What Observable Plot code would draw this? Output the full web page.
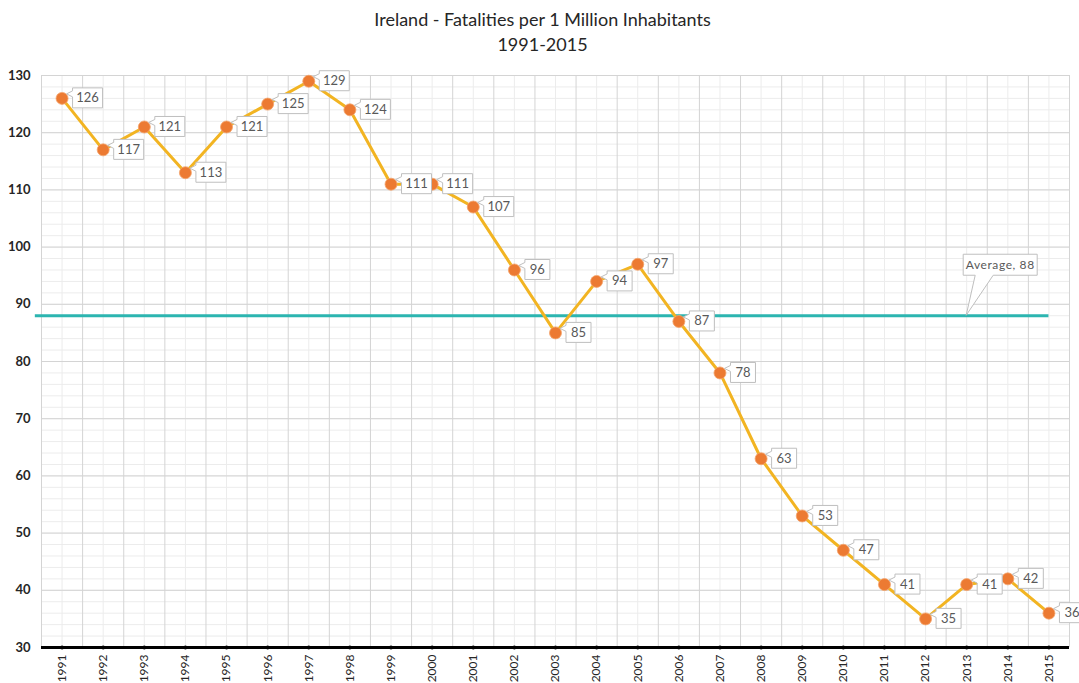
<!DOCTYPE html>
<html>
<head>
<meta charset="utf-8">
<script src="https://cdn.jsdelivr.net/npm/d3@7"></script>
<script src="https://cdn.jsdelivr.net/npm/@observablehq/plot@0.6"></script>
<style>
  html, body { margin: 0; padding: 0; background: #fff; }
  #title { height: 62px; width: 1079px; text-align: center; font-family: Lato, "Open Sans", sans-serif; font-size: 18px; color: #262626; line-height: 25px; padding-top: 7px; box-sizing: border-box; padding-left: 6px; }
  svg { display: block; }
</style>
</head>
<body>
<div id="title">Ireland - Fatalities per 1 Million Inhabitants<br>1991-2015</div>
<div id="chart"></div>
<script>
const years = [1991,1992,1993,1994,1995,1996,1997,1998,1999,2000,2001,2002,2003,2004,2005,2006,2007,2008,2009,2010,2011,2012,2013,2014,2015];
const fatalities = [126,117,121,113,121,125,129,124,111,111,107,96,85,94,97,87,78,63,53,47,41,35,41,42,36];
const averageValue = 88;
const averageLabel = "Average, 88";
const averageLabelYear = 2013;
const yTicks = [30,40,50,60,70,80,90,100,110,120,130];

const data = years.map((y, i) => ({year: y, value: fatalities[i]}));
const minorY = d3.range(30, 131, 2);
const boundaries = d3.range(1990.5, 2016, 1);

function callouts(rows) {
  return Plot.dot(rows, {
    x: "year", y: "value", r: 0,
    render(index, scales, values) {
      const g = d3.create("svg:g");
      for (const i of index) {
        const px = values.x[i], py = values.y[i];
        const label = String(rows[i].value);
        const w = label.length === 3 ? 30 : 25, h = 20;
        const bx = px + 11, by = py - h / 2;
        g.append("path")
          .attr("d", `M${bx},${by} H${bx + w} V${by + h} H${bx} V${by + 9} L${px + 5},${py - 4} L${bx},${by + 3} Z`)
          .attr("fill", "#fff").attr("stroke", "#bfbfbf").attr("stroke-width", 1);
        g.append("text")
          .attr("x", bx + w / 2).attr("y", py + 4.5)
          .attr("text-anchor", "middle")
          .attr("font-family", "Lato, 'Open Sans', sans-serif")
          .attr("font-size", 13).attr("fill", "#595959")
          .text(label);
      }
      return g.node();
    }
  });
}

function avgCallout() {
  return Plot.dot([{year: averageLabelYear, value: averageValue}], {
    x: "year", y: "value", r: 0,
    render(index, scales, values) {
      const g = d3.create("svg:g");
      const px = values.x[0], py = values.y[0];
      const bx = px - 3, by = py - 61, w = 74, h = 21;
      g.append("path")
        .attr("d", `M${bx},${by} H${bx + w} V${by + h} H${bx + 30} L${px},${py} L${bx + 12},${by + h} H${bx} Z`)
        .attr("fill", "#fff").attr("stroke", "#bfbfbf").attr("stroke-width", 1);
      g.append("text")
        .attr("x", bx + w / 2).attr("y", by + 15)
        .attr("text-anchor", "middle")
        .attr("font-family", "Lato, 'Open Sans', sans-serif")
        .attr("font-size", 12).attr("fill", "#595959")
        .attr("letter-spacing", "0.6px")
        .text(averageLabel);
      return g.node();
    }
  });
}

const chart = Plot.plot({
  width: 1079,
  height: 621,
  marginLeft: 41,
  marginRight: 10,
  marginTop: 13,
  marginBottom: 36,
  style: {fontFamily: "Lato, 'Open Sans', sans-serif", fontSize: "12px", background: "#fff", overflow: "visible"},
  x: {type: "linear", domain: [1990.5, 2015.5], label: null},
  y: {domain: [30, 130], label: null},
  marks: [
    Plot.ruleY(minorY, {stroke: "#ececec", strokeWidth: 1}),
    Plot.ruleX(years, {stroke: "#ececec", strokeWidth: 1}),
    Plot.ruleY(yTicks, {stroke: "#d4d4d4", strokeWidth: 1}),
    Plot.ruleX(boundaries, {stroke: "#d4d4d4", strokeWidth: 1}),
    Plot.axisY({ticks: yTicks, label: null, tickSize: 0, tickPadding: 11, fontWeight: "bold", fontSize: 13, color: "#262626", tickFormat: d => String(d)}),
    Plot.axisX({ticks: years, label: null, tickSize: 0, tickPadding: 7, tickRotate: -90, fontSize: 12, color: "#262626", tickFormat: d => String(d)}),
    Plot.ruleY([averageValue], {x1: 1990.35, x2: 2015, stroke: "#2cb5b0", strokeWidth: 3}),
    Plot.ruleY([30], {x1: 1990.5, x2: 2015.5, stroke: "#000", strokeWidth: 3}),
    Plot.dot(years, {x: d => d, y: 30, r: 2, fill: "#000"}),
    Plot.line(data, {x: "year", y: "value", stroke: "#f2b422", strokeWidth: 3}),
    Plot.dot(data, {x: "year", y: "value", r: 6, fill: "#ec7a32", stroke: "#f4a36b", strokeWidth: 0.8}),
    callouts(data),
    avgCallout()
  ]
});
document.getElementById("chart").appendChild(chart);
</script>
</body>
</html>
